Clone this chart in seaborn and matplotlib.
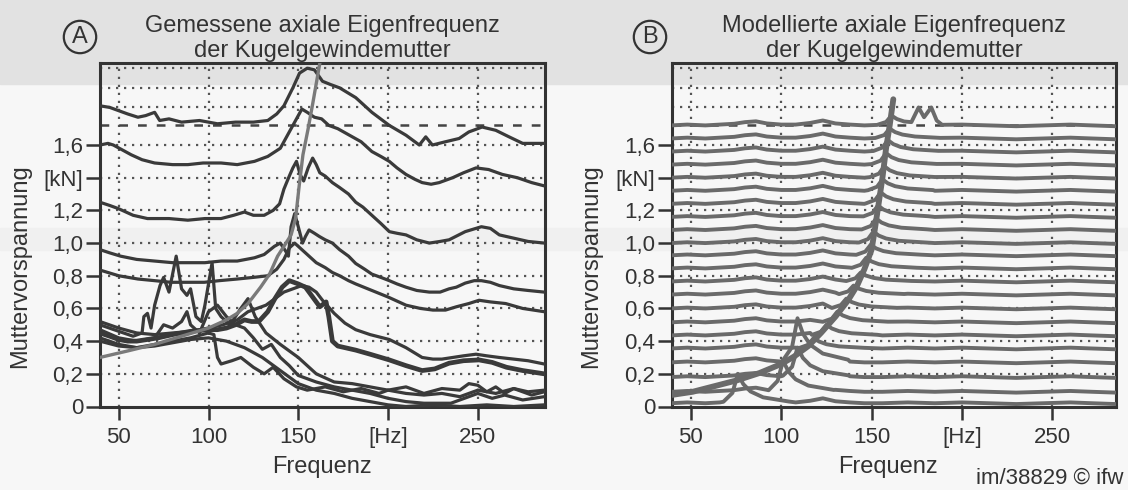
import pandas as pd
import seaborn as sns
import matplotlib.pyplot as plt
from matplotlib.patches import Rectangle

# ---------------- Panel A: gemessene Spektren (x in Hz, y in kN-Skala) ----------------
mess_hz_1 = [39.5, 45, 50, 55, 60.7, 65, 70, 72.8, 78, 85, 95, 105, 115, 125, 133, 138, 142, 147,
             150.7, 155, 159, 163.5, 168, 173, 182, 191, 200.7, 210, 217.4, 221, 224.7, 232, 239.6,
             245, 252.4, 260, 267.4, 275, 287]
mess_kn_1 = [1.84, 1.83, 1.81, 1.79, 1.77, 1.78, 1.80, 1.75, 1.76, 1.74, 1.75, 1.73, 1.74, 1.74,
             1.75, 1.79, 1.84, 1.95, 2.04, 2.07, 2.06, 1.99, 1.97, 1.95, 1.89, 1.80, 1.72, 1.66,
             1.60, 1.65, 1.60, 1.62, 1.64, 1.68, 1.71, 1.69, 1.65, 1.61, 1.61]

mess_hz_2 = [39.5, 44, 47, 52, 57, 63, 70, 80, 88.5, 97, 107, 116, 125.6, 133, 140, 146, 149, 152,
             155, 159, 163, 167, 172, 178.5, 185, 191, 196, 200.7, 205, 210, 215, 219, 224, 228.5,
             236, 242, 249, 256, 263.7, 272, 280, 287]
mess_kn_2 = [1.60, 1.61, 1.60, 1.57, 1.54, 1.51, 1.49, 1.48, 1.48, 1.49, 1.49, 1.48, 1.50, 1.53,
             1.58, 1.70, 1.76, 1.82, 1.80, 1.77, 1.76, 1.72, 1.70, 1.66, 1.62, 1.56, 1.53, 1.50,
             1.46, 1.42, 1.39, 1.37, 1.36, 1.37, 1.40, 1.43, 1.46, 1.45, 1.42, 1.40, 1.37, 1.35]

mess_hz_3 = [39.5, 45, 50, 58, 66, 78, 88.5, 98, 107, 114, 120, 125, 131, 136, 139.6, 142, 145,
             147, 149, 151, 153, 155.5, 158, 160, 162, 165, 169, 173, 178, 182, 186, 191, 196,
             200.7, 205, 210, 216, 223, 229, 234, 243, 252, 257, 262, 270, 278, 287]
mess_kn_3 = [1.25, 1.23, 1.21, 1.17, 1.15, 1.15, 1.14, 1.15, 1.15, 1.17, 1.19, 1.17, 1.17, 1.20,
             1.24, 1.33, 1.41, 1.46, 1.50, 1.42, 1.38, 1.46, 1.52, 1.48, 1.43, 1.41, 1.37, 1.34,
             1.30, 1.25, 1.22, 1.17, 1.12, 1.07, 1.06, 1.05, 1.02, 1.00, 1.01, 1.02, 1.07, 1.10,
             1.09, 1.05, 1.03, 1.01, 1.00]

mess_hz_4 = [39.5, 45, 51, 60, 70, 80, 88.5, 98, 107, 116, 125.6, 131, 136.7, 140, 143, 144.5,
             146, 148, 150, 152.4, 154, 156, 159, 161.8, 165, 169, 173, 178, 182, 187, 191, 196,
             200.7, 205, 210, 216, 223, 229, 234, 238, 243, 248, 252, 257, 262, 270, 278, 287]
mess_kn_4 = [0.96, 0.94, 0.92, 0.90, 0.89, 0.88, 0.88, 0.88, 0.89, 0.89, 0.91, 0.93, 0.98, 1.00,
             0.95, 0.92, 1.10, 1.18, 1.10, 1.00, 1.04, 1.08, 1.06, 1.04, 1.02, 1.00, 0.96, 0.92,
             0.875, 0.84, 0.81, 0.79, 0.77, 0.75, 0.73, 0.71, 0.70, 0.70, 0.72, 0.73, 0.755, 0.77,
             0.77, 0.76, 0.74, 0.72, 0.71, 0.70]

mess_hz_5 = [39.5, 50, 60.7, 70, 79, 88, 97.6, 106, 116, 125, 133, 138, 142, 145, 148, 150, 153,
             156, 160, 165, 169, 173, 178, 182, 191, 200, 210, 218, 225, 232, 238, 245, 250.7,
             257, 265.5, 275, 287]
mess_kn_5 = [0.835, 0.80, 0.78, 0.77, 0.76, 0.76, 0.76, 0.77, 0.78, 0.79, 0.80, 0.84, 0.90, 0.97,
             1.00, 0.98, 0.95, 0.92, 0.88, 0.85, 0.82, 0.80, 0.77, 0.75, 0.71, 0.67, 0.62, 0.60,
             0.59, 0.59, 0.61, 0.63, 0.65, 0.64, 0.63, 0.60, 0.58]

# dicke Kurve
mess_hz_6 = [39.5, 45, 50, 55, 60, 66, 72, 80, 90, 100, 105, 110, 115, 120, 124, 128, 133, 137,
             141, 145, 150, 154, 158, 162, 165.5, 167, 169, 172, 176, 182, 190, 200.7, 210, 219,
             226, 234, 242, 250.7, 258, 266, 275, 287]
mess_kn_6 = [0.45, 0.43, 0.41, 0.40, 0.40, 0.41, 0.42, 0.44, 0.46, 0.47, 0.47, 0.48, 0.50, 0.53,
             0.52, 0.52, 0.58, 0.66, 0.73, 0.77, 0.75, 0.73, 0.67, 0.61, 0.64, 0.55, 0.40, 0.37,
             0.36, 0.345, 0.32, 0.285, 0.25, 0.22, 0.23, 0.265, 0.28, 0.285, 0.27, 0.24, 0.22, 0.20]

mess_hz_7 = [39.5, 50, 60, 70, 80, 90, 100, 108, 116, 122, 127, 132, 137, 142, 147, 152, 156, 160,
             163.5, 170, 176, 182, 190, 200.7, 210, 219, 225, 230, 236, 242, 249, 255, 262, 270,
             278, 287]
mess_kn_7 = [0.52, 0.48, 0.45, 0.44, 0.45, 0.46, 0.48, 0.50, 0.53, 0.58, 0.60, 0.62, 0.66, 0.70,
             0.72, 0.74, 0.73, 0.70, 0.65, 0.57, 0.51, 0.47, 0.44, 0.41, 0.36, 0.30, 0.29, 0.29,
             0.30, 0.31, 0.32, 0.31, 0.30, 0.29, 0.28, 0.26]

mess_hz_8 = [39.5, 50, 58, 63, 64, 66, 68, 70, 73, 75, 78, 82, 85, 88, 90, 93, 96, 98, 100, 102,
             104, 107, 112, 118, 122, 126, 132, 140, 150, 160, 170, 180, 190, 200, 210, 220, 230,
             240, 245, 250, 255, 260, 265, 270, 278, 287]
mess_kn_8 = [0.50, 0.46, 0.43, 0.45, 0.55, 0.57, 0.48, 0.62, 0.74, 0.79, 0.70, 0.92, 0.72, 0.68,
             0.72, 0.55, 0.52, 0.62, 0.75, 0.88, 0.60, 0.55, 0.50, 0.60, 0.66, 0.55, 0.45, 0.38,
             0.30, 0.20, 0.15, 0.14, 0.12, 0.10, 0.12, 0.08, 0.11, 0.10, 0.14, 0.13, 0.09, 0.12,
             0.08, 0.11, 0.09, 0.10]

mess_hz_9 = [39.5, 50, 60, 70, 75, 80, 85, 88, 90, 95, 100, 105, 110, 115, 120, 125, 130, 135,
             140, 145, 150, 160, 170, 180, 190, 200, 210, 220, 235, 245, 250, 258, 265, 275, 287]
mess_kn_9 = [0.47, 0.42, 0.40, 0.42, 0.50, 0.48, 0.52, 0.58, 0.50, 0.45, 0.58, 0.62, 0.55, 0.50,
             0.48, 0.42, 0.35, 0.38, 0.30, 0.25, 0.19, 0.15, 0.12, 0.10, 0.08, 0.05, 0.03, 0.02,
             0.02, 0.06, 0.08, 0.05, 0.07, 0.04, 0.06]

mess_hz_10 = [39.5, 50, 60, 70, 80, 90, 100, 103, 105, 107, 113, 118, 125, 131, 136, 142, 149,
              155, 165, 175, 185, 195, 200, 210, 220, 230, 240, 250, 260, 270, 280, 287]
mess_kn_10 = [0.42, 0.38, 0.36, 0.38, 0.40, 0.42, 0.45, 0.44, 0.30, 0.26, 0.28, 0.30, 0.24, 0.20,
              0.24, 0.17, 0.12, 0.10, 0.12, 0.09, 0.11, 0.08, 0.10, 0.08, 0.07, 0.08, 0.06, 0.10,
              0.08, 0.11, 0.07, 0.09]

mess_hz_11 = [39.5, 50, 60, 70, 80, 90, 100, 110, 120, 130, 140, 150, 160, 170, 180, 190, 200,
              210, 225, 240, 255, 270, 287]
mess_kn_11 = [0.40, 0.37, 0.36, 0.37, 0.39, 0.41, 0.42, 0.40, 0.36, 0.30, 0.22, 0.14, 0.10, 0.08,
              0.05, 0.03, 0.01, 0.00, 0.01, 0.00, 0.01, 0.00, 0.01]

mess_trace_hz = [39.5, 55, 70, 85, 100, 110, 116, 122, 129, 134, 138.5, 142, 146, 148.5, 150.5,
                 152.6, 155.5, 158, 162.8]
mess_trace_kn = [0.30, 0.34, 0.38, 0.43, 0.48, 0.53, 0.57, 0.63, 0.73, 0.81, 0.92, 0.98, 1.05,
                 1.15, 1.35, 1.54, 1.70, 1.85, 2.15]

# ---------------- Panel B: modellierte Spektren ----------------
model_levels = [0.02, 0.09, 0.18, 0.27, 0.355, 0.435, 0.515, 0.60, 0.685, 0.765, 0.845, 0.925,
                1.00, 1.08, 1.16, 1.24, 1.32, 1.40, 1.48, 1.56, 1.64, 1.72]
model_peak_hz = [76, 101, 109, 109, 118, 125, 131, 136, 140, 144, 147, 149.5, 151, 152.5, 153.5,
                 155, 156, 157, 158, 159, 160, 161]
model_peak_kn = [0.20, 0.28, 0.36, 0.54, 0.42, 0.50, 0.58, 0.66, 0.74, 0.82, 0.91, 0.99, 1.07,
                 1.15, 1.23, 1.31, 1.39, 1.47, 1.55, 1.63, 1.70, 1.78]
model_grid_hz = [39, 48, 58, 66, 74, 80, 86, 92, 100, 108, 116, 123, 130, 138, 146, 156, 170, 185,
                 200, 215, 230, 245, 260, 272, 285]
model_ripple = [0, 0.005, 0, 0.005, 0.01, 0.02, 0.025, 0.012, 0.005, 0.005, 0.015, 0.03, 0.012,
                0.005, 0, 0, 0.005, 0, 0.005, 0, -0.005, 0, 0.005, 0, -0.005]
model_flank_hz = [-8, -3, 0, 3, 7, 14, 28]
model_flank = [0.05, 0.35, 1.0, 0.65, 0.4, 0.2, 0.06]
model_top_extra_hz = [172, 176, 179, 183, 186]
model_top_extra_kn = [1.74, 1.83, 1.77, 1.83, 1.75]

model_trace_hz = [39, 51, 65, 75.5, 88, 100, 107, 115, 122, 130, 137, 142, 146, 150, 152, 154,
                  156, 158, 160, 162]
model_trace_kn = [0.07, 0.09, 0.13, 0.16, 0.205, 0.26, 0.305, 0.37, 0.45, 0.55, 0.65, 0.74, 0.84,
                  0.96, 1.10, 1.25, 1.40, 1.58, 1.72, 1.88]

ytick_vals = [0, 0.2, 0.4, 0.6, 0.8, 1.0, 1.2, 1.4, 1.6]
ytick_labels = ['0', '0,2', '0,4', '0,6', '0,8', '1,0', '1,2', '[kN]', '1,6']
xtick_vals = [50, 100, 150, 200, 250]
xtick_labels = ['50', '100', '150', '[Hz]', '250']

# ---------------- Daten in Tabellen ----------------
mess_rows = []
mess_sets = [(mess_hz_1, mess_kn_1), (mess_hz_2, mess_kn_2), (mess_hz_3, mess_kn_3),
             (mess_hz_4, mess_kn_4), (mess_hz_5, mess_kn_5), (mess_hz_7, mess_kn_7),
             (mess_hz_8, mess_kn_8), (mess_hz_9, mess_kn_9), (mess_hz_10, mess_kn_10),
             (mess_hz_11, mess_kn_11)]
for k, (hz, kn) in enumerate(mess_sets):
    for f, v in zip(hz, kn):
        mess_rows.append({'hz': f, 'kn': v, 'kurve': k})
df_mess = pd.DataFrame(mess_rows)
df_thick = pd.DataFrame({'hz': mess_hz_6, 'kn': mess_kn_6})
df_mess_trace = pd.DataFrame({'hz': mess_trace_hz, 'kn': mess_trace_kn})

model_rows = []
for k, (lev, fp, pk) in enumerate(zip(model_levels, model_peak_hz, model_peak_kn)):
    lo, hi = fp + model_flank_hz[0], fp + model_flank_hz[-1]
    pts = [(f, lev + r) for f, r in zip(model_grid_hz, model_ripple) if not (lo <= f <= hi)]
    pts += [(fp + d, lev + (pk - lev) * w) for d, w in zip(model_flank_hz, model_flank)]
    if k == len(model_levels) - 1:
        pts = [p for p in pts if not (170 <= p[0] <= 188)]
        pts += list(zip(model_top_extra_hz, model_top_extra_kn))
    for f, v in sorted(pts):
        model_rows.append({'hz': f, 'kn': v, 'kurve': k})
df_model = pd.DataFrame(model_rows)
df_model_trace = pd.DataFrame({'hz': model_trace_hz, 'kn': model_trace_kn})

# ---------------- Zeichnen ----------------
sns.set_style('white')
plt.rcParams['font.family'] = ['Liberation Sans', 'DejaVu Sans']
plt.rcParams['text.color'] = '#333333'

W, H = 1128, 490
fig = plt.figure(figsize=(W / 100, H / 100), dpi=100, facecolor='#f7f7f7')
# Scan-Hintergrund
fig.patches.append(Rectangle((0, 1 - 84 / H), 1, 84 / H, transform=fig.transFigure,
                             color='#e2e2e2', zorder=-10))
fig.patches.append(Rectangle((0, 1 - 250 / H), 1, 22 / H, transform=fig.transFigure,
                             color='#f0f0f0', zorder=-10))

ink = '#333333'


def px_axes(x0, x1, y0, y1):
    return fig.add_axes([x0 / W, 1 - y1 / H, (x1 - x0) / W, (y1 - y0) / H])


def style_axes(ax, xlim):
    ax.set_facecolor('none')
    ax.set_xlim(*xlim)
    ax.set_ylim(0, 2.10)
    for f in xtick_vals:
        ax.axvline(f, color='#555555', lw=1.6, ls=(0, (1, 2.6)), zorder=0.5)
    for v in [0.2, 0.4, 0.6, 0.8, 1.0, 1.2, 1.4, 1.6, 1.83, 1.95, 2.07]:
        ax.axhline(v, color='#555555', lw=1.6, ls=(0, (1, 2.6)), zorder=0.5)
    ax.axhline(1.72, color='#444444', lw=1.8, ls=(0, (3.5, 4)), zorder=0.5)
    ax.set_xticks(xtick_vals, xtick_labels)
    ax.set_yticks(ytick_vals, ytick_labels)
    ax.tick_params(axis='x', direction='out', length=9, width=1.8, color=ink, pad=6,
                   labelsize=16, labelcolor=ink, bottom=True)
    ax.tick_params(axis='y', direction='out', length=10, width=1.8, color=ink, pad=2,
                   labelsize=16, labelcolor=ink, left=True)
    for s in ax.spines.values():
        s.set_color(ink)
        s.set_linewidth(2.2)
        s.set_visible(True)
    ax.set_xlabel('')
    ax.set_ylabel('')


# Panel A
axA = px_axes(99.7, 544.6, 63.3, 406.5)
sns.lineplot(data=df_mess, x='hz', y='kn', units='kurve', estimator=None, color='#3a3a3a',
             lw=2.3, ax=axA, zorder=3)
sns.lineplot(data=df_thick, x='hz', y='kn', color='#3a3a3a', lw=3.4, ax=axA, zorder=3)
sns.lineplot(data=df_mess_trace, x='hz', y='kn', color='#7a7a7a', lw=2.4, ax=axA, zorder=4)
style_axes(axA, (39.4, 287.2))

# Panel B
axB = px_axes(671.7, 1116, 63.3, 406.5)
sns.lineplot(data=df_model, x='hz', y='kn', units='kurve', estimator=None, color='#6a6a6a',
             lw=2.8, ax=axB, zorder=3)
sns.lineplot(data=df_model_trace, x='hz', y='kn', color='#6a6a6a', lw=4.2, ax=axB, zorder=4)
style_axes(axB, (39.4, 285.2))


def ftext(x, y, s, **kw):
    fig.text(x / W, 1 - y / H, s, **kw)


# Titel
ftext(322, 32, 'Gemessene axiale Eigenfrequenz', ha='center', va='baseline', fontsize=17)
ftext(322, 57, 'der Kugelgewindemutter', ha='center', va='baseline', fontsize=17)
ftext(894, 32, 'Modellierte axiale Eigenfrequenz', ha='center', va='baseline', fontsize=17)
ftext(894, 57, 'der Kugelgewindemutter', ha='center', va='baseline', fontsize=17)

circ = dict(boxstyle='circle,pad=0.22', fc='none', ec=ink, lw=1.6)
ftext(80, 37, 'A', ha='center', va='center', fontsize=17, bbox=circ)
ftext(650, 37, 'B', ha='center', va='center', fontsize=17, bbox=circ)

# Achsentitel
ftext(20, 266, 'Muttervorspannung', rotation=90, ha='center', va='center', fontsize=17)
ftext(591, 266, 'Muttervorspannung', rotation=90, ha='center', va='center', fontsize=17)
ftext(322, 467, 'Frequenz', ha='center', va='center', fontsize=17)
ftext(888, 467, 'Frequenz', ha='center', va='center', fontsize=17)

ftext(1124, 478, 'im/38829 \u00a9 ifw', ha='right', va='center', fontsize=16)

fig.savefig('out.png', dpi=100, facecolor=fig.get_facecolor())
